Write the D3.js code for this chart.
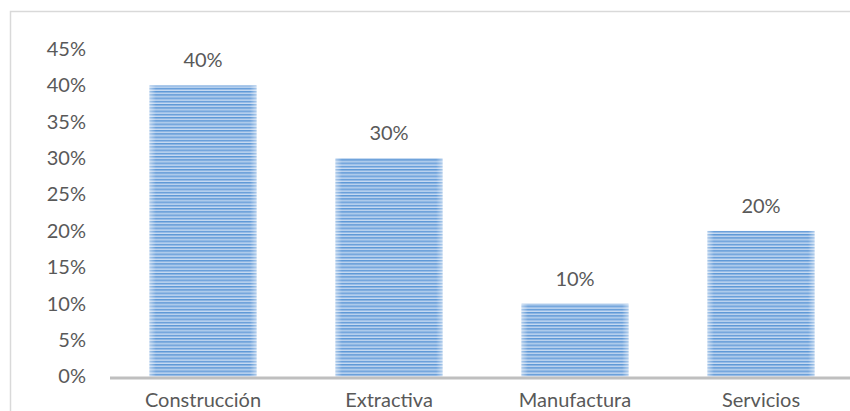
<!DOCTYPE html>
<html>
<head>
<meta charset="utf-8">
<script src="https://cdn.jsdelivr.net/npm/d3@7"></script>
<style>
  html, body { margin: 0; padding: 0; background: #fff; }
  svg { display: block; }
</style>
</head>
<body>
<svg id="chart" width="850" height="411"></svg>
<script>
// Share of companies by economic sector
const categories = ["Construcción", "Extractiva", "Manufactura", "Servicios"];
const values = [0.40, 0.30, 0.10, 0.20];
const tickValues = [0, 0.05, 0.10, 0.15, 0.20, 0.25, 0.30, 0.35, 0.40, 0.45];

const svg = d3.select("#chart");
const font = "Lato, 'Open Sans', sans-serif";
const fontSize = 20;
const textColor = "#595959";

// chart area frame
svg.append("rect")
  .attr("x", 10.5).attr("y", 11.5)
  .attr("width", 900).attr("height", 500)
  .attr("fill", "#fff")
  .attr("stroke", "#d9d9d9")
  .attr("stroke-width", 1.5);

// striped fill for the bars
const defs = svg.append("defs");
const pat = defs.append("pattern")
  .attr("id", "stripes")
  .attr("patternUnits", "userSpaceOnUse")
  .attr("width", 8).attr("height", 3.25);
pat.append("rect").attr("width", 8).attr("height", 3.25).attr("fill", "#c9dcf2");
pat.append("rect").attr("y", 0).attr("width", 8).attr("height", 1.4).attr("fill", "#5b96d6");
pat.append("rect").attr("y", 1.4).attr("width", 8).attr("height", 0.8).attr("fill", "#92b9e6");

const edge = defs.append("linearGradient").attr("id", "edge")
  .attr("x1", "0").attr("x2", "1").attr("y1", "0").attr("y2", "0");
edge.append("stop").attr("offset", "0").attr("stop-color", "#fff").attr("stop-opacity", 0.45);
edge.append("stop").attr("offset", "0.06").attr("stop-color", "#fff").attr("stop-opacity", 0);
edge.append("stop").attr("offset", "0.94").attr("stop-color", "#fff").attr("stop-opacity", 0);
edge.append("stop").attr("offset", "1").attr("stop-color", "#fff").attr("stop-opacity", 0.45);

const x = d3.scaleBand()
  .domain(categories)
  .range([110, 854])
  .paddingInner(0.425)
  .paddingOuter(0.2125);

const y = d3.scaleLinear()
  .domain([0, 0.45])
  .range([376.5, 49]);

// y axis labels (no axis line)
const yAxis = d3.axisLeft(y)
  .tickValues(tickValues)
  .tickFormat(d3.format(".0%"))
  .tickSize(0)
  .tickPadding(0);
const yg = svg.append("g").attr("transform", "translate(86,0)").call(yAxis);
yg.select(".domain").remove();
yg.selectAll("text")
  .attr("font-family", font)
  .attr("font-size", fontSize)
  .attr("fill", textColor);

// bars
const bars = svg.append("g");
bars.selectAll("rect.bar")
  .data(values)
  .join("rect")
  .attr("class", "bar")
  .attr("x", (d, i) => x(categories[i]))
  .attr("y", d => y(d))
  .attr("width", x.bandwidth())
  .attr("height", d => y(0) - y(d))
  .attr("fill", "url(#stripes)");
bars.selectAll("rect.edge")
  .data(values)
  .join("rect")
  .attr("class", "edge")
  .attr("x", (d, i) => x(categories[i]))
  .attr("y", d => y(d))
  .attr("width", x.bandwidth())
  .attr("height", d => y(0) - y(d))
  .attr("fill", "url(#edge)");

// value labels
svg.append("g").selectAll("text")
  .data(values)
  .join("text")
  .attr("x", (d, i) => x(categories[i]) + x.bandwidth() / 2)
  .attr("y", d => y(d) - 18)
  .attr("text-anchor", "middle")
  .attr("font-family", font)
  .attr("font-size", fontSize)
  .attr("fill", textColor)
  .text(d => d3.format(".0%")(d));

// x axis
const xAxis = d3.axisBottom(x).tickSize(0).tickPadding(14);
const xg = svg.append("g").attr("transform", `translate(0,${y(0)})`).call(xAxis);
xg.select(".domain")
  .attr("stroke", "#bfbfbf")
  .attr("stroke-width", 3)
  .attr("d", "M110,1.5H850");
xg.selectAll("text")
  .attr("y", 30)
  .attr("dy", 0)
  .attr("font-family", font)
  .attr("font-size", fontSize)
  .attr("fill", textColor);
</script>
</body>
</html>
